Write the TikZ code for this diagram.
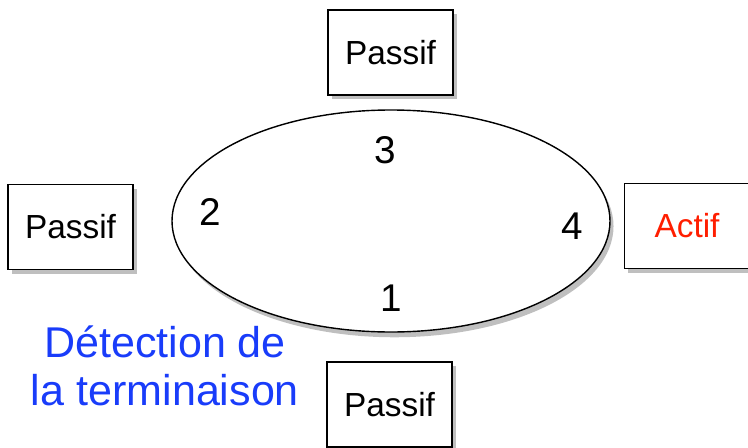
\documentclass[tikz,border=0pt]{standalone}
\usepackage{fontspec}
\setmainfont{Liberation Sans}
\usetikzlibrary{shapes.geometric,shadows}
\definecolor{bleu}{RGB}{25,60,250}
\definecolor{rouge}{RGB}{255,30,0}
\tikzset{
  etat/.style={draw, thick, fill=white, minimum width=2.5cm, minimum height=1.7cm,
    font=\fontsize{19}{21}\selectfont,
    drop shadow={shadow xshift=2pt, shadow yshift=-2.5pt, opacity=0.5}},
  proc/.style={font=\fontsize{22}{24}\selectfont}
}
\begin{document}
\begin{tikzpicture}
\useasboundingbox (0,0) rectangle (14.96,8.94);
\node[ellipse, draw, thick, fill=white, minimum width=8.76cm, minimum height=4.44cm,
  drop shadow={shadow xshift=2pt, shadow yshift=-3pt, opacity=0.5}] (anneau) at (7.82,4.52) {};
\node[proc] (p3) at (7.70,5.94) {3};
\node[proc] (p2) at (4.20,4.70) {2};
\node[proc] (p4) at (11.44,4.42) {4};
\node[proc] (p1) at (7.82,2.98) {1};
\node[etat] (haut) at (7.81,7.89) {Passif};
\node[etat] (gauche) at (1.41,4.40) {Passif};
\node[etat, text=rouge] (droite) at (13.74,4.42) {Actif};
\node[etat] (bas) at (7.79,0.85) {Passif};
\node[text=bleu, align=center, font=\fontsize{24.5}{27.5}\selectfont] (titre) at (3.30,1.62)
  {Détection de\\la terminaison};
\end{tikzpicture}
\end{document}
